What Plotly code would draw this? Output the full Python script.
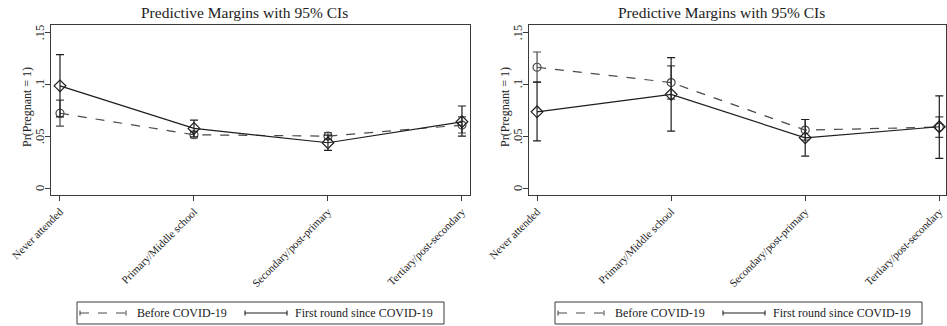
import plotly.graph_objects as go

# Education categories on the x axis
categories = ["Never attended", "Primary/Middle school",
              "Secondary/post-primary", "Tertiary/post-secondary"]

series_names = ["Before COVID-19", "First round since COVID-19"]

# Panel 1: predictive margins and 95% CI bounds
p1_before = [0.0720, 0.0513, 0.0500, 0.0606]
p1_before_lo = [0.0596, 0.0482, 0.0468, 0.0530]
p1_before_hi = [0.0846, 0.0545, 0.0535, 0.0686]
p1_after = [0.0984, 0.0574, 0.0436, 0.0638]
p1_after_lo = [0.0685, 0.0494, 0.0362, 0.0500]
p1_after_hi = [0.1285, 0.0654, 0.0510, 0.0790]

# Panel 2: predictive margins and 95% CI bounds
p2_before = [0.1163, 0.1016, 0.0558, 0.0587]
p2_before_lo = [0.1020, 0.0856, 0.0462, 0.0488]
p2_before_hi = [0.1310, 0.1176, 0.0660, 0.0686]
p2_after = [0.0734, 0.0902, 0.0484, 0.0590]
p2_after_lo = [0.0455, 0.0548, 0.0308, 0.0286]
p2_after_hi = [0.1020, 0.1256, 0.0660, 0.0888]

y_tickvals = [0, 0.05, 0.1, 0.15]
y_ticktext = ["0", ".05", ".1", ".15"]

W, H = 947, 326
FONT = "Liberation Serif"
FRAME = "#3a3a3a"
DASH_COLOR = "#4a4a4a"
SOLID_COLOR = "#1e1e1e"

xpos = list(range(len(categories)))

fig = go.Figure()


def add_series(vals, lo, hi, xa, ya, color, dash, symbol, msize):
    fig.add_trace(go.Scatter(
        x=xpos, y=vals, xaxis=xa, yaxis=ya,
        mode="lines+markers",
        line=dict(color=color, width=1.2, dash=dash),
        marker=dict(symbol=symbol, size=msize,
                    line=dict(color=color, width=1.2)),
        error_y=dict(type="data", symmetric=False,
                     array=[h - v for h, v in zip(hi, vals)],
                     arrayminus=[v - l for v, l in zip(vals, lo)],
                     color=color, thickness=1.2, width=4),
        showlegend=False,
    ))


add_series(p1_before, p1_before_lo, p1_before_hi, "x", "y",
           DASH_COLOR, "dash", "circle-open", 8)
add_series(p1_after, p1_after_lo, p1_after_hi, "x", "y",
           SOLID_COLOR, "solid", "diamond-open", 9)
add_series(p2_before, p2_before_lo, p2_before_hi, "x2", "y2",
           DASH_COLOR, "dash", "circle-open", 8)
add_series(p2_after, p2_after_lo, p2_after_hi, "x2", "y2",
           SOLID_COLOR, "solid", "diamond-open", 9)


def px_x(p):
    return p / W


def px_y(p):
    return 1 - p / H


# plot-area pixel boxes (left, right), title centre and y-axis ref per panel
panels = [(51, 470, 244, "y"), (529, 946, 721, "y2")]
top_px, bot_px = 25, 195

xaxis_common = dict(
    automargin=False,
    tickmode="array", tickvals=xpos, ticktext=categories,
    tickangle=-45, ticks="outside", ticklen=5, tickcolor=FRAME,
    showline=True, linecolor=FRAME, linewidth=1, mirror=True,
    showgrid=False, zeroline=False,
    tickfont=dict(family=FONT, size=11, color="#222"),
)
yaxis_common = dict(
    automargin=False,
    range=[-0.0067, 0.157],
    tickmode="array", tickvals=y_tickvals, ticktext=y_ticktext,
    showticklabels=False,
    ticks="outside", ticklen=5, tickcolor=FRAME,
    showline=True, linecolor=FRAME, linewidth=1, mirror=True,
    showgrid=False, zeroline=False,
)

fig.update_layout(
    xaxis=dict(xaxis_common, domain=[px_x(51), px_x(470)],
               range=[-0.067, 3.06], anchor="y"),
    yaxis=dict(yaxis_common, domain=[px_y(bot_px), px_y(top_px)], anchor="x"),
    xaxis2=dict(xaxis_common, domain=[px_x(529), px_x(946)],
                range=[-0.06, 3.05], anchor="y2"),
    yaxis2=dict(yaxis_common, domain=[px_y(bot_px), px_y(top_px)], anchor="x2"),
)

shapes = []
annotations = []

for (left, right, tcx, yref) in panels:
    # panel title
    annotations.append(dict(
        text="Predictive Margins with 95% CIs", xref="paper", yref="paper",
        x=px_x(tcx), y=px_y(13), showarrow=False,
        xanchor="center", yanchor="middle",
        font=dict(family=FONT, size=15.5, color="#222")))

    # vertical y tick labels, placed on the axis scale
    for val, txt in zip(y_tickvals, y_ticktext):
        annotations.append(dict(
            text=txt, xref="paper", yref=yref,
            x=px_x(left - 11), y=val, showarrow=False, textangle=-90,
            xanchor="center", yanchor="middle",
            font=dict(family=FONT, size=12.5, color="#222")))

    # y-axis title
    annotations.append(dict(
        text="Pr(Pregnant = 1)", xref="paper", yref="paper",
        x=px_x(left - 24), y=px_y((top_px + bot_px) / 2 - 3),
        showarrow=False, textangle=-90,
        xanchor="center", yanchor="middle",
        font=dict(family=FONT, size=12, color="#222")))

    # legend box below each panel
    lx0 = left + 26
    shapes.append(dict(type="rect", xref="paper", yref="paper",
                       x0=px_x(lx0), x1=px_x(lx0 + 367),
                       y0=px_y(324), y1=px_y(302),
                       line=dict(color=FRAME, width=1)))
    ymid = 313
    keys = [(lx0 + 3, lx0 + 49, "dash", DASH_COLOR, lx0 + 58, series_names[0]),
            (lx0 + 168, lx0 + 210, "solid", SOLID_COLOR, lx0 + 216, series_names[1])]
    for (a, b, dash, color, tx, label) in keys:
        shapes.append(dict(type="line", xref="paper", yref="paper",
                           x0=px_x(a), x1=px_x(b), y0=px_y(ymid), y1=px_y(ymid),
                           line=dict(color=color, width=1.1, dash=dash)))
        for cx in (a, b):
            shapes.append(dict(type="line", xref="paper", yref="paper",
                               x0=px_x(cx), x1=px_x(cx),
                               y0=px_y(ymid - 2.5), y1=px_y(ymid + 2.5),
                               line=dict(color=color, width=1.1)))
        annotations.append(dict(
            text=label, xref="paper", yref="paper",
            x=px_x(tx), y=px_y(ymid), showarrow=False,
            xanchor="left", yanchor="middle",
            font=dict(family=FONT, size=12, color="#222")))

fig.update_layout(
    width=W, height=H,
    margin=dict(l=0, r=0, t=0, b=0),
    paper_bgcolor="white", plot_bgcolor="white",
    shapes=shapes, annotations=annotations,
    showlegend=False,
)

fig.write_html("out.html")
